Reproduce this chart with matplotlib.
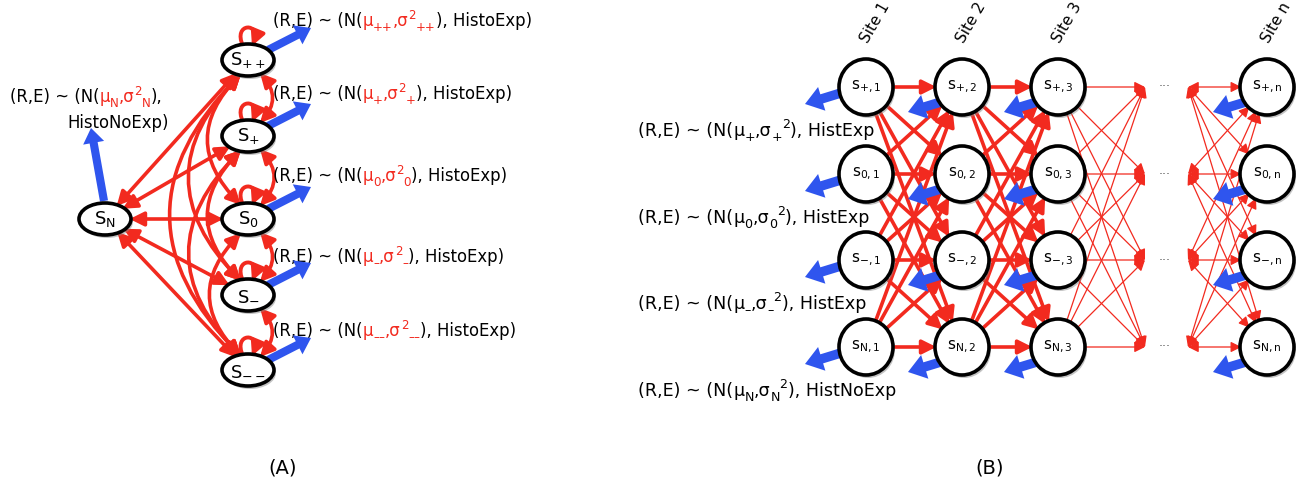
import matplotlib.pyplot as plt
from matplotlib.patches import Ellipse, FancyArrowPatch, ArrowStyle
from matplotlib.path import Path

plt.rcParams['font.family'] = ['DejaVu Sans']
plt.rcParams['mathtext.fontset'] = 'dejavusans'

RED = '#f22a1f'
BLUE = '#2f55ee'

# model (A): states of a single site
a_states = ['++', '+', '0', '–', '––']
a_hist = 'HistoExp'
a_null = 'N'
a_null_hist = 'HistoNoExp)'

# model (B): states per site, sites along the sequence
b_rows = ['+', '0', '–', 'N']
b_sites = ['1', '2', '3', 'n']
b_hist = ['HistExp', 'HistExp', 'HistExp', 'HistNoExp']

fig = plt.figure(figsize=(12.98, 4.84), dpi=100)
ax = fig.add_axes([0, 0, 1, 1])
ax.set_xlim(0, 1298)
ax.set_ylim(484, 0)
ax.axis('off')
renderer = fig.canvas.get_renderer()


def rich(x, y, parts, size=11.5):
    # draw pieces one after another; kind 1 = superscript, -1 = subscript
    for s, color, kind in parts:
        fs = size if kind == 0 else size * 0.72
        dy = {0: 0, 1: -0.45 * size * 100 / 72, -1: 0.3 * size * 100 / 72}[kind]
        t = ax.text(x, y + dy, s, fontsize=fs, color=color, va='baseline', ha='left')
        x += t.get_window_extent(renderer).width


def node(x, y, w, h, label, size):
    ax.add_patch(Ellipse((x + 2, y + 3), w, h, color='#8a8a8a', alpha=0.5, lw=0, zorder=3))
    e = Ellipse((x, y), w, h, fc='white', ec='black', lw=2.6, zorder=4)
    ax.add_patch(e)
    ax.text(x, y, label, ha='center', va='center', fontsize=size, zorder=5)
    return e


def red(p, q, pa=None, pb=None, lw=2.6, style='<|-|>', ms=12, rad=0.0):
    ax.add_patch(FancyArrowPatch(p, q, patchA=pa, patchB=pb, shrinkA=0, shrinkB=0,
                                 arrowstyle=ArrowStyle(style, head_length=0.7, head_width=0.35),
                                 connectionstyle=f'arc3,rad={rad}', color=RED, lw=lw,
                                 mutation_scale=ms, zorder=2))


def blue(p, q, ms=9):
    ax.add_patch(FancyArrowPatch(p, q, shrinkA=0, shrinkB=0,
                                 arrowstyle=ArrowStyle.Simple(head_length=1.2, head_width=1.7, tail_width=0.65),
                                 color=BLUE, lw=0, mutation_scale=ms, zorder=3.5))


# ---------------- (A) ----------------
ax_x, ny_x, ny_y = 248, 105, 219
a_y = [60, 136, 219, 295, 370]
aw, ah = 52, 32

a_nodes = [node(ax_x, y, aw, ah, r'S$_{\mathrm{%s}}$' % s.replace('–', '-'), 13)
           for s, y in zip(a_states, a_y)]
sn = node(ny_x, ny_y, aw, ah, r'S$_{\mathrm{N}}$', 13)

for e, y in zip(a_nodes, a_y):
    # self loop on top
    top = y - ah / 2
    loop = Path([(ax_x - 5, top + 2), (ax_x - 16, top - 22), (ax_x + 14, top - 22), (ax_x + 4, top + 2)],
                [Path.MOVETO, Path.CURVE4, Path.CURVE4, Path.CURVE4])
    ax.add_patch(FancyArrowPatch(path=loop, arrowstyle=ArrowStyle('-|>', head_length=0.7, head_width=0.35),
                                 color=RED, lw=2.8, mutation_scale=12, zorder=2))
    # link with the null state
    red((ny_x, ny_y), (ax_x, y), sn, e)
    blue((ax_x + 20, y - 10), (ax_x + 63, y - 32))

for i in range(len(a_y) - 1):
    red((ax_x + 12, a_y[i] + ah / 2 - 3), (ax_x + 12, a_y[i + 1] - ah / 2 + 3),
        a_nodes[i], a_nodes[i + 1], rad=-0.45)
    for j in range(i + 2, len(a_y)):
        red((ax_x - 6, a_y[i] + ah / 2 - 3), (ax_x - 6, a_y[j] - ah / 2 + 3),
            a_nodes[i], a_nodes[j], rad=0.5)

blue((ny_x - 1, ny_y - 18), (ny_x - 14, ny_y - 91))

a_lab_y = [26, 99, 181, 262, 336]
for s, y in zip(a_states, a_lab_y):
    rich(ax_x + 25, y, [('(R,E) ~ (N(', 'black', 0), ('μ', RED, 0), (s, RED, -1), (',σ', RED, 0),
                        ('2', RED, 1), (s, RED, -1), ('), ' + a_hist + ')', 'black', 0)], size=11.9)

rich(10, 102, [('(R,E) ~ (N(', 'black', 0), ('μ', RED, 0), (a_null, RED, -1), (',σ', RED, 0),
               ('2', RED, 1), (a_null, RED, -1), ('),', 'black', 0)], size=11.9)
ax.text(67, 128, a_null_hist, fontsize=11.9, va='baseline')

ax.text(283, 468, '(A)', fontsize=14, ha='center', va='center')

# ---------------- (B) ----------------
b_x = [866, 962, 1058, 1267]
b_y = [87, 174, 260, 347]
bw, bh = 54, 56
ghost_in, ghost_out, dots_x = 1145, 1188, 1165

cells = [[node(x, y, bw, bh, r's$_{\mathrm{%s,%s}}$' % (r.replace('–', '-'), s), 11)
          for r, y in zip(b_rows, b_y)]
         for s, x in zip(b_sites, b_x)]

for c in range(2):
    for i, y1 in enumerate(b_y):
        for j, y2 in enumerate(b_y):
            red((b_x[c], y1), (b_x[c + 1], y2), cells[c][i], cells[c + 1][j], style='-|>')

for i, y1 in enumerate(b_y):
    for j, y2 in enumerate(b_y):
        red((b_x[2], y1), (ghost_in, y2), cells[2][i], None, lw=0.9, ms=9, style='-|>')
        red((ghost_out, y1), (b_x[3], y2), None, cells[3][j], lw=0.9, ms=9)
    ax.text(dots_x, y1 - 4, '...', fontsize=9, color='#555555', ha='center', va='center')

for c, x in enumerate(b_x):
    for y in b_y:
        if c == 0:
            blue((x - 22, y + 5), (x - 61, y + 17), ms=10.5)
        else:
            blue((x - 18, y + 14), (x - 54, y + 25), ms=10.5)
    ax.text(x + 2, 44, 'Site ' + b_sites[c], rotation=60, rotation_mode='anchor',
            ha='left', va='baseline', fontsize=11)

for r, y, h in zip(b_rows, b_y, b_hist):
    rich(638, y + 49, [('(R,E) ~ (N(', 'black', 0), ('μ', 'black', 0), (r, 'black', -1),
                       (',σ', 'black', 0), (r, 'black', -1), ('2', 'black', 1),
                       ('), ' + h, 'black', 0)], size=12.6)

ax.text(990, 468, '(B)', fontsize=14, ha='center', va='center')

fig.savefig('out.png', dpi=100)
